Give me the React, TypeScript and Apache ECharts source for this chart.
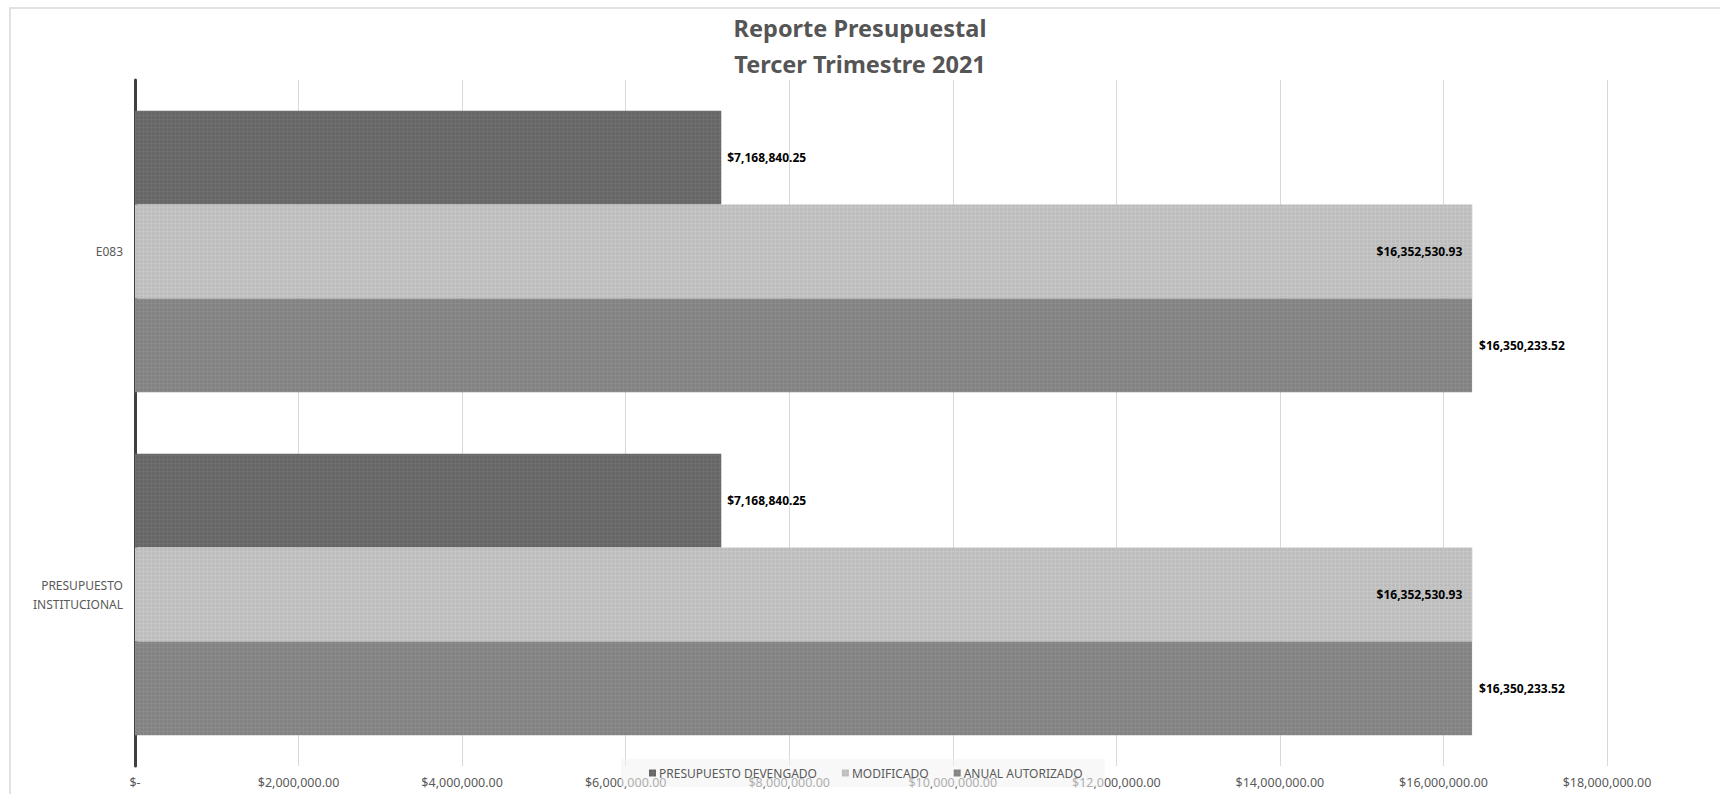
import React, { useEffect, useRef } from "react";
import * as echarts from "echarts";

const categories = ["E083", "PRESUPUESTO INSTITUCIONAL"];
const seriesNames = ["PRESUPUESTO DEVENGADO", "MODIFICADO", "ANUAL AUTORIZADO"];
const devengado = [7168840.25, 7168840.25];
const modificado = [16352530.93, 16352530.93];
const anualAutorizado = [16350233.52, 16350233.52];
const xTicks = [0, 2000000, 4000000, 6000000, 8000000, 10000000, 12000000, 14000000, 16000000, 18000000];

const FONT = "'Noto Sans', 'Open Sans', sans-serif";

function money(v: number): string {
  if (v === 0) return "$-";
  return "$" + v.toLocaleString("en-US", { minimumFractionDigits: 2, maximumFractionDigits: 2 });
}

function decal(color: string) {
  return {
    symbol: "rect",
    symbolSize: 0.9,
    dashArrayX: [3, 1],
    dashArrayY: [3, 1],
    color,
  };
}

export default function App() {
  const ref = useRef<HTMLDivElement>(null);
  useEffect(() => {
    document.body.style.margin = "0";
    if (!ref.current) return;
    const chart = echarts.init(ref.current, null, { renderer: "svg" });
    const colors = ["#6f6f6f", "#c6c6c6", "#8b8b8b"];
    const decals = ["rgba(0,0,0,0.10)", "rgba(0,0,0,0.06)", "rgba(0,0,0,0.08)"];
    const values = [devengado, modificado, anualAutorizado];
    const labelPos = ["right", "insideRight", "right"];
    const labelDist = [6, 10, 7];
    chart.setOption({
      animation: false,
      backgroundColor: "#ffffff",
      title: {
        text: "Reporte Presupuestal\nTercer Trimestre 2021",
        left: "center",
        top: 5,
        textStyle: {
          fontFamily: FONT,
          fontSize: 23.5,
          fontWeight: "bold",
          color: "#555555",
          lineHeight: 36,
        },
      },
      graphic: [
        {
          type: "rect",
          shape: { x: 10, y: 8, width: 1800, height: 900 },
          style: { fill: "none", stroke: "#d9d9d9", lineWidth: 1.5 },
          silent: true,
          z: -10,
        },
      ],
      legend: {
        data: seriesNames,
        left: 621,
        top: 759,
        padding: [8, 22, 8, 28],
        itemGap: 25,
        itemWidth: 7,
        itemHeight: 7,
        icon: "rect",
        backgroundColor: "rgba(242,242,242,0.55)",
        textStyle: { fontFamily: FONT, fontSize: 12, color: "#595959", padding: [0, 0, 0, -2] },
      },
      grid: { left: 135, right: 113, top: 80, bottom: 28, containLabel: false },
      xAxis: {
        type: "value",
        min: xTicks[0],
        max: xTicks[xTicks.length - 1],
        interval: xTicks[1] - xTicks[0],
        axisLine: { show: false },
        axisTick: { show: false },
        splitLine: { show: true, lineStyle: { color: "#d9d9d9", width: 1 } },
        axisLabel: {
          formatter: (v: number) => money(v),
          fontFamily: FONT,
          fontSize: 12.5,
          color: "#595959",
          margin: 10,
        },
      },
      yAxis: {
        type: "category",
        data: categories,
        inverse: true,
        axisLine: { show: true, lineStyle: { color: "#404040", width: 3 } },
        axisTick: { show: false },
        axisLabel: {
          formatter: (v: string) => v.replace(" ", "\n"),
          fontFamily: FONT,
          fontSize: 12,
          color: "#595959",
          margin: 12,
          lineHeight: 19,
        },
      },
      series: seriesNames.map((name, i) => ({
        name,
        type: "bar",
        data: values[i],
        barGap: "0%",
        barCategoryGap: "18%",
        itemStyle: { color: colors[i], decal: decal(decals[i]) },
        label: {
          show: true,
          position: labelPos[i],
          distance: labelDist[i],
          formatter: (p: any) => money(p.value),
          fontFamily: FONT,
          fontSize: 12,
          fontWeight: "bold",
          color: "#000000",
        },
      })),
    });
    return () => chart.dispose();
  }, []);
  return <div ref={ref} style={{ width: 1720, height: 794 }} />;
}
